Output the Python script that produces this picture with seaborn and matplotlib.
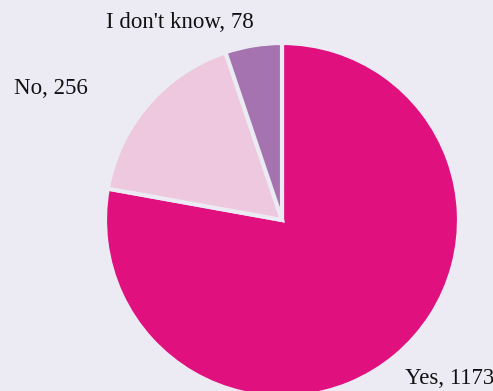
import matplotlib
matplotlib.use("Agg")
import matplotlib.pyplot as plt
import seaborn as sns

# Survey answers and counts
answers = ["Yes", "No", "I don't know"]
counts = [1173, 256, 78]
colors = ["#E0107F", "#EDC8DE", "#A473B0"]

BG = "#ECEBF4"

sns.set_theme(style="white", rc={"figure.facecolor": BG, "axes.facecolor": BG})
plt.rcParams["font.family"] = ["Liberation Serif", "DejaVu Serif"]

W, H = 493, 391
cx, cy, r = 282, 220, 177

fig = plt.figure(figsize=(W / 100, H / 100), dpi=100)
ax = fig.add_axes([0, 0, 1, 1])

ax.pie(
    counts,
    colors=colors,
    startangle=90,
    counterclock=False,
    radius=r,
    center=(0, 0),
    wedgeprops=dict(edgecolor=BG, linewidth=3),
)
ax.set_xlim(-cx, W - cx)
ax.set_ylim(-(H - cy), cy)
ax.set_aspect("equal", adjustable="datalim")
ax.set_axis_off()

labels = [f"{a}, {c}" for a, c in zip(answers, counts)]
label_pos = [
    (W - cx + 1, -(378 - cy), "right"),   # Yes
    (14 - cx, cy - 88, "left"),           # No
    (180 - cx, cy - 22, "center"),        # I don't know
]
for text, (x, y, ha) in zip(labels, label_pos):
    ax.text(x, y, text, ha=ha, va="center", fontsize=16.5, color="#111111")

fig.savefig("out.png", dpi=100, facecolor=BG)
